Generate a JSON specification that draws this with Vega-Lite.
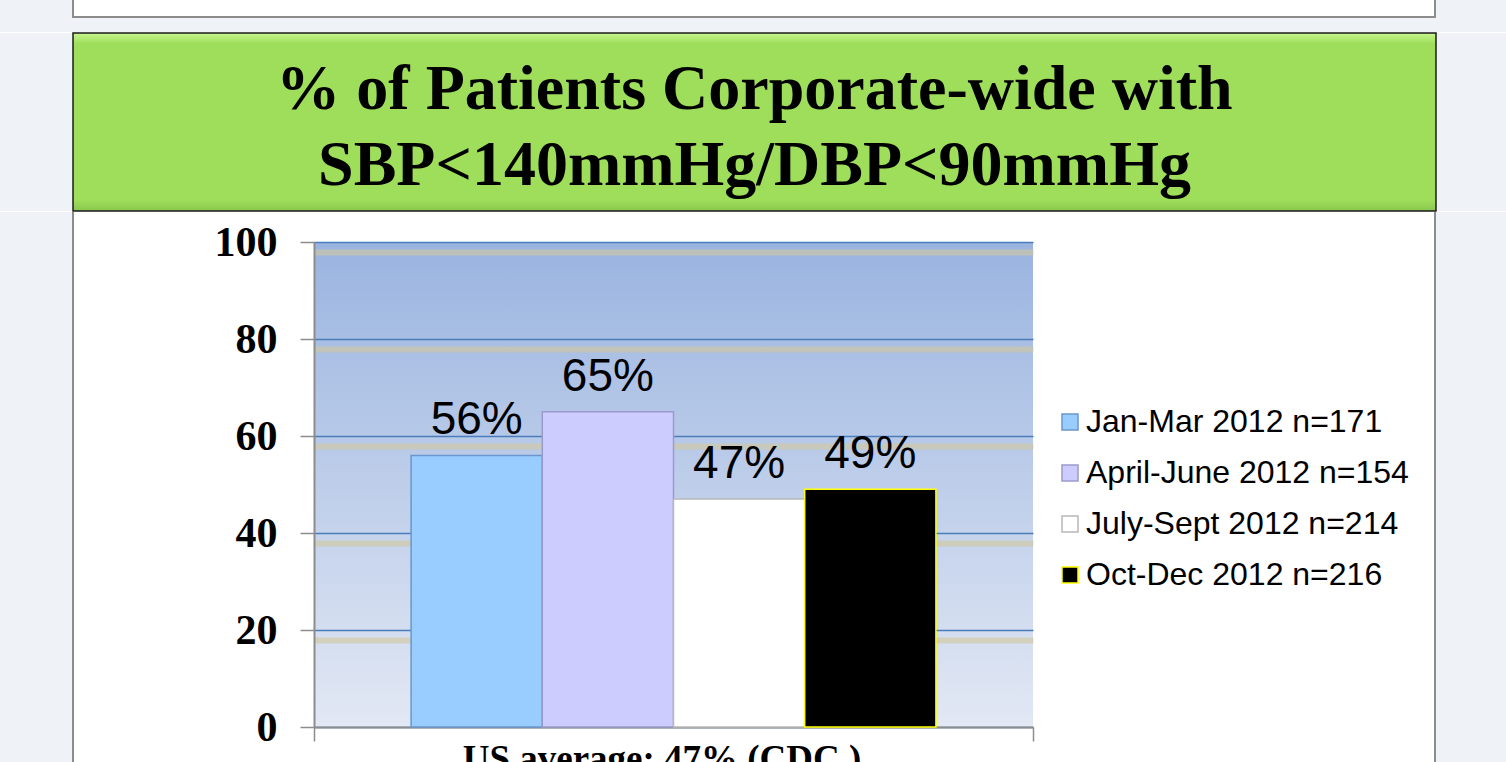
{
  "$schema": "https://vega.github.io/schema/vega-lite/v6.json",
  "background": "#ffffff",
  "padding": 0,
  "spacing": -23,
  "config": {"view": {"stroke": null}},
  "vconcat": [
    {
      "spacing": 0,
      "vconcat": [
        {
          "spacing": 0,
          "hconcat": [
            {"width": 72, "height": 16, "data": {"values": []}, "mark": "point", "encoding": {}, "view": {"fill": "#eff3f8", "stroke": null}},
            {"width": 2, "height": 16, "data": {"values": []}, "mark": "point", "encoding": {}, "view": {"fill": "#8c8c8c", "stroke": null}},
            {"width": 1360, "height": 16, "data": {"values": []}, "mark": "point", "encoding": {}, "view": {"fill": "#ffffff", "stroke": null}},
            {"width": 2, "height": 16, "data": {"values": []}, "mark": "point", "encoding": {}, "view": {"fill": "#8c8c8c", "stroke": null}},
            {"width": 70, "height": 16, "data": {"values": []}, "mark": "point", "encoding": {}, "view": {"fill": "#eff3f8", "stroke": null}}
          ]
        },
        {
          "spacing": 0,
          "hconcat": [
            {"width": 72, "height": 2, "data": {"values": []}, "mark": "point", "encoding": {}, "view": {"fill": "#eff3f8", "stroke": null}},
            {"width": 1364, "height": 2, "data": {"values": []}, "mark": "point", "encoding": {}, "view": {"fill": "#8c8c8c", "stroke": null}},
            {"width": 70, "height": 2, "data": {"values": []}, "mark": "point", "encoding": {}, "view": {"fill": "#eff3f8", "stroke": null}}
          ]
        },
        {"width": 1506, "height": 14, "data": {"values": []}, "mark": "point", "encoding": {}, "view": {"fill": "#eff3f8", "stroke": null}},
        {
          "spacing": 0,
          "hconcat": [
            {"width": 72, "height": 178, "data": {"values": []}, "mark": "point", "encoding": {}, "view": {"fill": "#eff3f8", "stroke": null}},
            {
              "width": 1363, "height": 178,
              "view": {"fill": {"gradient": "linear", "x1": 0, "y1": 0, "x2": 0, "y2": 1, "stops": [{"offset": 0, "color": "#c9f78e"}, {"offset": 0.06, "color": "#9ede5a"}, {"offset": 0.94, "color": "#9ede5a"}, {"offset": 1, "color": "#88c64e"}]}, "stroke": "#1a1a1a", "strokeWidth": 1.5},
              "data": {"values": [
                {"line": "% of Patients Corporate-wide with"},
                {"line": "SBP<140mmHg/DBP<90mmHg"}
              ]},
              "mark": {"type": "text", "font": "Liberation Serif", "fontSize": 64, "fontWeight": "bold", "color": "#000000", "baseline": "middle", "dy": 6},
              "encoding": {
                "y": {"field": "line", "type": "nominal", "sort": null, "axis": null, "scale": {"type": "point", "padding": 0.656}},
                "text": {"field": "line"}
              }
            },
            {"width": 71, "height": 178, "data": {"values": []}, "mark": "point", "encoding": {}, "view": {"fill": "#eff3f8", "stroke": null}}
          ]
        },
        {
          "spacing": 0,
          "hconcat": [
            {"width": 72, "height": 30, "data": {"values": []}, "mark": "point", "encoding": {}, "view": {"fill": "#eff3f8", "stroke": null}},
            {"width": 2, "height": 30, "data": {"values": []}, "mark": "point", "encoding": {}, "view": {"fill": "#8c8c8c", "stroke": null}},
            {"width": 1360, "height": 30, "data": {"values": []}, "mark": "point", "encoding": {}, "view": {"fill": "#ffffff", "stroke": null}},
            {"width": 2, "height": 30, "data": {"values": []}, "mark": "point", "encoding": {}, "view": {"fill": "#8c8c8c", "stroke": null}},
            {"width": 70, "height": 30, "data": {"values": []}, "mark": "point", "encoding": {}, "view": {"fill": "#eff3f8", "stroke": null}}
          ]
        }
      ]
    },
    {
      "spacing": 0,
      "hconcat": [
        {"width": 72, "height": 560, "data": {"values": []}, "mark": "point", "encoding": {}, "view": {"fill": "#eff3f8", "stroke": null}},
        {"width": 2, "height": 560, "data": {"values": []}, "mark": "point", "encoding": {}, "view": {"fill": "#8c8c8c", "stroke": null}},
        {
          "width": 719, "height": 485,
          "view": {"fill": {"gradient": "linear", "x1": 0, "y1": 0, "x2": 0, "y2": 1, "stops": [{"offset": 0, "color": "#9ab4e0"}, {"offset": 1, "color": "#e2e8f4"}]}, "stroke": null},
          "data": {"values": [
            {"group": "US average: 47% (CDC )", "period": "Jan-Mar 2012 n=171", "value": 56, "label": "56%"},
            {"group": "US average: 47% (CDC )", "period": "April-June 2012 n=154", "value": 65, "label": "65%"},
            {"group": "US average: 47% (CDC )", "period": "July-Sept 2012 n=214", "value": 47, "label": "47%"},
            {"group": "US average: 47% (CDC )", "period": "Oct-Dec 2012 n=216", "value": 49, "label": "49%"}
          ]},
          "encoding": {
            "x": {"field": "group", "type": "nominal", "scale": {"paddingInner": 0, "paddingOuter": 0},
              "axis": {"title": null, "labelAngle": 0, "labelLimit": 900, "labelOffset": -12, "labelFont": "Liberation Serif", "labelFontSize": 37, "labelFontWeight": "bold", "labelColor": "#000000", "labelPadding": 0, "domainColor": "#8c8c8c", "domainWidth": 2, "tickColor": "#8c8c8c", "tickWidth": 1.5, "tickSize": 14, "tickBand": "extent", "grid": false}},
            "xOffset": {"field": "period", "type": "nominal", "sort": null, "scale": {"paddingInner": 0, "paddingOuter": 0.74}}
          },
          "layer": [
            {
              "mark": {"type": "bar", "strokeWidth": 1.5},
              "encoding": {
                "y": {"field": "value", "type": "quantitative", "scale": {"domain": [0, 100], "nice": false},
                  "axis": {"title": null, "values": [0, 20, 40, 60, 80, 100], "grid": true, "gridColor": "#4a7ebb", "gridWidth": 1.5, "domainColor": "#8c8c8c", "domainWidth": 2, "tickColor": "#8c8c8c", "tickWidth": 1.5, "tickSize": 14, "labelFont": "Liberation Serif", "labelFontSize": 42, "labelFontWeight": "bold", "labelColor": "#000000", "labelPadding": 23, "minExtent": 240, "orient": "left"}},
                "fill": {"field": "period", "type": "nominal", "sort": null,
                  "scale": {"domain": ["Jan-Mar 2012 n=171", "April-June 2012 n=154", "July-Sept 2012 n=214", "Oct-Dec 2012 n=216"], "range": ["#99ccff", "#ccccff", "#ffffff", "#000000"]},
                  "legend": {"title": null, "orient": "none", "legendX": 1054, "legendY": 406, "symbolType": "square", "symbolSize": 256, "symbolStrokeWidth": 1.5, "labelFont": "Liberation Sans", "labelFontSize": 32, "labelColor": "#000000", "labelLimit": 500, "rowPadding": 19, "labelOffset": 0, "padding": 0}},
                "stroke": {"field": "period", "type": "nominal", "sort": null,
                  "scale": {"domain": ["Jan-Mar 2012 n=171", "April-June 2012 n=154", "July-Sept 2012 n=214", "Oct-Dec 2012 n=216"], "range": ["#6a96cf", "#9a9acb", "#b8b8b8", "#ffff00"]},
                  "legend": {"title": null, "orient": "none", "legendX": 1054, "legendY": 406, "symbolType": "square", "symbolSize": 256, "symbolStrokeWidth": 1.5, "labelFont": "Liberation Sans", "labelFontSize": 32, "labelColor": "#000000", "labelLimit": 500, "rowPadding": 19, "labelOffset": 0, "padding": 0}}
              }
            },
            {
              "mark": {"type": "text", "font": "Liberation Sans", "fontSize": 46, "baseline": "alphabetic", "dy": -21, "color": "#000000"},
              "encoding": {
                "y": {"field": "value", "type": "quantitative", "axis": null},
                "text": {"field": "label"}
              }
            },
            {
              "mark": {"type": "rule", "opacity": 0},
              "encoding": {
                "y": {"field": "value", "type": "quantitative",
                  "axis": {"orient": "right", "title": null, "values": [20, 40, 60, 80, 100], "grid": true, "gridColor": "#d2c89c", "gridOpacity": 0.6, "gridWidth": 6, "tickOffset": 10, "labels": false, "ticks": false, "domain": false, "minExtent": 401, "maxExtent": 401}}
              }
            }
          ],
          "resolve": {"axis": {"y": "independent"}}
        },
        {"width": 2, "height": 560, "data": {"values": []}, "mark": "point", "encoding": {}, "view": {"fill": "#8c8c8c", "stroke": null}},
        {"width": 70, "height": 560, "data": {"values": []}, "mark": "point", "encoding": {}, "view": {"fill": "#eff3f8", "stroke": null}}
      ]
    }
  ]
}
